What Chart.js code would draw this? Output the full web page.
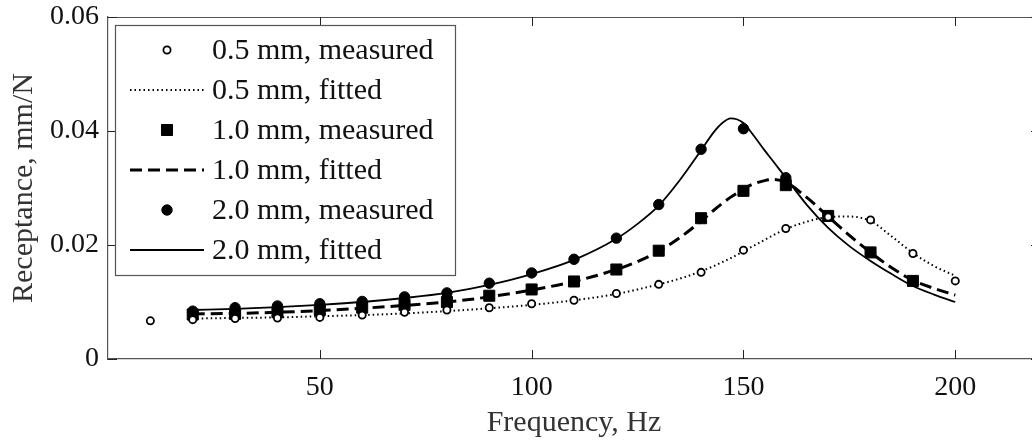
<!DOCTYPE html>
<html>
<head>
<meta charset="utf-8">
<script src="https://cdn.jsdelivr.net/npm/chart.js@4/dist/chart.umd.min.js"></script>
<style>
html, body { margin: 0; padding: 0; background: #fff; overflow: hidden; }
#marco { width: 1032px; height: 443px; overflow: hidden; position: relative; }
#grafico { display: block; }
</style>
</head>
<body>
<div id="marco"><canvas id="grafico" width="1040" height="443"></canvas></div>
<script>
// Frecuencias de medida (Hz)
var frec05 = [10, 20, 30, 40, 50, 60, 70, 80, 90, 100, 110, 120, 130, 140, 150, 160, 170, 180, 190, 200];
var frec10 = [20, 30, 40, 50, 60, 70, 80, 90, 100, 110, 120, 130, 140, 150, 160, 170, 180, 190];
var frec20 = [20, 30, 40, 50, 60, 70, 80, 90, 100, 110, 120, 130, 140, 150, 160];

// Receptancia medida (mm/N)
var medida05 = [0.0067, 0.0069, 0.0071, 0.0072, 0.0073, 0.0077, 0.0082, 0.0086, 0.0090, 0.0097, 0.0103, 0.0115, 0.0131, 0.0152, 0.0191, 0.0229, 0.0249, 0.0244, 0.0185, 0.0137];
var medida10 = [0.0078, 0.0079, 0.0082, 0.0086, 0.0090, 0.0095, 0.0100, 0.0111, 0.0122, 0.0136, 0.0157, 0.0190, 0.0247, 0.0295, 0.0305, 0.0251, 0.0187, 0.0137];
var medida20 = [0.0084, 0.0090, 0.0093, 0.0097, 0.0101, 0.0109, 0.0116, 0.0133, 0.0151, 0.0175, 0.0212, 0.0271, 0.0368, 0.0404, 0.0318];

// Curvas ajustadas
var frecAjuste = [20, 30, 40, 50, 60, 70, 80, 90, 100, 110, 120, 125, 130, 135, 140, 143, 145, 147, 150, 152, 155, 157, 160, 165, 170, 175, 180, 185, 190, 195, 200];
var ajuste05 = [0.0071, 0.0072, 0.0073, 0.0075, 0.0077, 0.0080, 0.0084, 0.0089, 0.0095, 0.0103, 0.0114, 0.0122, 0.0131, 0.0141, 0.0154, 0.0163, 0.0170, 0.0177, 0.0189, 0.0197, 0.0209, 0.0217, 0.0228, 0.0241, 0.0249, 0.0250, 0.0242, 0.0215, 0.0186, 0.0163, 0.0146];
var ajuste10 = [0.0079, 0.0080, 0.0082, 0.0085, 0.0089, 0.0094, 0.0100, 0.0109, 0.0121, 0.0136, 0.0157, 0.0171, 0.0189, 0.0213, 0.0242, 0.0261, 0.0273, 0.0284, 0.0298, 0.0306, 0.0313, 0.0315, 0.0310, 0.0283, 0.0250, 0.0217, 0.0187, 0.0160, 0.0138, 0.0124, 0.0112];
var ajuste20 = [0.0086, 0.0088, 0.0091, 0.0095, 0.0100, 0.0107, 0.0116, 0.0130, 0.0149, 0.0174, 0.0211, 0.0237, 0.0269, 0.0314, 0.0366, 0.0398, 0.0414, 0.0422, 0.0414, 0.0396, 0.0366, 0.0347, 0.0318, 0.0270, 0.0230, 0.0198, 0.0172, 0.0149, 0.0128, 0.0113, 0.0100];

var etiquetas = ['0.5 mm, measured', '0.5 mm, fitted', '1.0 mm, measured', '1.0 mm, fitted', '2.0 mm, measured', '2.0 mm, fitted'];
var ticksX = [50, 100, 150, 200];
var ticksY = [0, 0.02, 0.04, 0.06];

function pares(xs, ys) {
    return xs.map(function(x, i) { return { x: x, y: ys[i] }; });
}

var fuente = 'Liberation Serif';
var gris = '#555555';

// Marco superior/derecho y marcas hacia dentro
var marcoEjes = {
    id: 'marcoEjes',
    afterDraw: function(chart) {
        var ctx = chart.ctx, a = chart.chartArea;
        var sx = chart.scales.x, sy = chart.scales.y;
        ctx.save();
        ctx.strokeStyle = gris;
        ctx.lineWidth = 1.2;
        ctx.beginPath();
        ctx.moveTo(a.left, a.top + 0.5);
        ctx.lineTo(a.right, a.top + 0.5);
        ctx.moveTo(a.right - 0.5, a.top);
        ctx.lineTo(a.right - 0.5, a.bottom);
        ctx.stroke();
        ctx.strokeStyle = '#222';
        ctx.lineWidth = 1;
        ctx.beginPath();
        sx.ticks.forEach(function(t) {
            var px = Math.round(sx.getPixelForValue(t.value)) + 0.5;
            ctx.moveTo(px, a.bottom); ctx.lineTo(px, a.bottom - 9);
            ctx.moveTo(px, a.top); ctx.lineTo(px, a.top + 9);
        });
        sy.ticks.forEach(function(t) {
            var py = Math.round(sy.getPixelForValue(t.value)) + 0.5;
            ctx.moveTo(a.left, py); ctx.lineTo(a.left + 9, py);
            ctx.moveTo(a.right, py); ctx.lineTo(a.right - 9, py);
        });
        ctx.stroke();
        ctx.restore();
    }
};

// Leyenda dentro del area del grafico
var leyenda = {
    id: 'leyenda',
    afterDraw: function(chart) {
        var ctx = chart.ctx;
        ctx.save();
        ctx.fillStyle = '#fff';
        ctx.fillRect(115, 25, 340, 250);
        ctx.strokeStyle = gris;
        ctx.lineWidth = 1.2;
        ctx.strokeRect(115.5, 25.5, 340, 250);
        chart.data.datasets.forEach(function(ds, i) {
            var y = 50 + i * 40;
            ctx.strokeStyle = '#000';
            ctx.fillStyle = ds.pointBackgroundColor || '#000';
            if (ds.showLine === false) {
                ctx.lineWidth = ds.pointBorderWidth;
                ctx.beginPath();
                if (ds.pointStyle === 'rect') {
                    var s = ds.pointRadius * Math.SQRT1_2;
                    ctx.rect(167 - s, y - s, 2 * s, 2 * s);
                } else {
                    ctx.arc(167, y, ds.pointRadius, 0, Math.PI * 2);
                }
                ctx.fill();
                ctx.stroke();
            } else {
                ctx.lineWidth = ds.borderWidth;
                ctx.setLineDash(ds.borderDash || []);
                ctx.beginPath();
                ctx.moveTo(130, y);
                ctx.lineTo(204, y);
                ctx.stroke();
                ctx.setLineDash([]);
            }
            ctx.fillStyle = '#111';
            ctx.font = '30px "' + fuente + '"';
            ctx.textBaseline = 'middle';
            ctx.textAlign = 'left';
            ctx.fillText(ds.label, 212, y + 1);
        });
        ctx.restore();
    }
};

var ctx = document.getElementById('grafico').getContext('2d');
var grafico = new Chart(ctx, {
    type: 'line',
    data: {
        datasets: [{
            label: etiquetas[0],
            data: pares(frec05, medida05),
            showLine: false,
            pointStyle: 'circle',
            pointRadius: 3.6,
            pointBorderWidth: 1.8,
            pointBackgroundColor: '#fff',
            pointBorderColor: '#000',
            order: 0
        }, {
            label: etiquetas[1],
            data: pares(frecAjuste, ajuste05),
            borderColor: '#000',
            borderWidth: 2,
            borderDash: [1.5, 3],
            pointRadius: 0,
            cubicInterpolationMode: 'monotone',
            order: 1
        }, {
            label: etiquetas[2],
            data: pares(frec10, medida10),
            showLine: false,
            pointStyle: 'rect',
            pointRadius: 7.8,
            pointBorderWidth: 1,
            pointBackgroundColor: '#000',
            pointBorderColor: '#000',
            order: 0
        }, {
            label: etiquetas[3],
            data: pares(frecAjuste, ajuste10),
            borderColor: '#000',
            borderWidth: 3,
            borderDash: [12, 6],
            pointRadius: 0,
            cubicInterpolationMode: 'monotone',
            order: 1
        }, {
            label: etiquetas[4],
            data: pares(frec20, medida20),
            showLine: false,
            pointStyle: 'circle',
            pointRadius: 5.2,
            pointBorderWidth: 1,
            pointBackgroundColor: '#000',
            pointBorderColor: '#000',
            order: 0
        }, {
            label: etiquetas[5],
            data: pares(frecAjuste, ajuste20),
            borderColor: '#000',
            borderWidth: 1.8,
            pointRadius: 0,
            cubicInterpolationMode: 'monotone',
            order: 1
        }]
    },
    options: {
        responsive: false,
        animation: false,
        layout: { autoPadding: false, padding: { top: 17, right: 0, left: 0, bottom: 0 } },
        plugins: {
            legend: { display: false },
            tooltip: { enabled: false }
        },
        scales: {
            x: {
                type: 'linear',
                min: 0,
                max: 220,
                afterBuildTicks: function(s) { s.ticks = ticksX.map(function(v) { return { value: v }; }); },
                afterFit: function(s) { s.height = 84; s.paddingLeft = 0; s.paddingRight = 0; },
                grid: { display: false, drawTicks: false },
                border: { display: true, color: gris, width: 1.2 },
                ticks: { padding: 12, color: '#111', font: { family: fuente, size: 28 }, maxRotation: 0 },
                title: { display: true, text: 'Frequency, Hz', color: '#333', font: { family: fuente, size: 30 }, padding: { bottom: 2 } }
            },
            y: {
                type: 'linear',
                min: 0,
                max: 0.06,
                afterBuildTicks: function(s) { s.ticks = ticksY.map(function(v) { return { value: v }; }); },
                afterFit: function(s) { s.width = 108; s.paddingTop = 0; s.paddingBottom = 0; },
                grid: { display: false, drawTicks: false },
                border: { display: true, color: gris, width: 1.2 },
                ticks: {
                    padding: 9,
                    color: '#111',
                    font: { family: fuente, size: 28 },
                    callback: function(v) { return v === 0 ? '0' : v.toFixed(2); }
                },
                title: { display: true, text: 'Receptance, mm/N', color: '#333', font: { family: fuente, size: 30 }, padding: { top: 6 } }
            }
        }
    },
    plugins: [marcoEjes, leyenda]
});
</script>
</body>
</html>
